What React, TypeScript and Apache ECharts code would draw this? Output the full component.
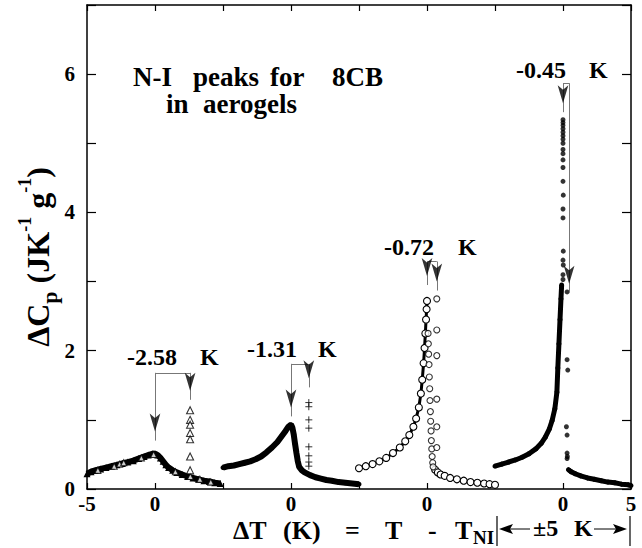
import React, { useEffect, useRef } from "react";
import * as echarts from "echarts";

const SERIF = "Liberation Serif";

// Panel placement on the shared axis (each panel spans -5..+5 K)
const PANEL_OFFSETS = [0, 10, 20, 30];
const X_TICK_LABELS: Record<string, string> = { "-5": "-5", "0": "0", "10": "0", "20": "0", "30": "0", "35": "5" };
const Y_TICK_LABELS = [0, 2, 4, 6];

// Panel 1 : -2.58 K (triangles)
const p1Curve = [
  [-5.0, 0.22], [-4.7, 0.25], [-4.4, 0.27], [-4.0, 0.29], [-3.6, 0.31], [-3.2, 0.33], [-2.8, 0.35],
  [-2.4, 0.37], [-2.0, 0.39], [-1.6, 0.41], [-1.2, 0.44], [-0.8, 0.47], [-0.5, 0.49], [-0.2, 0.51],
  [0.0, 0.51], [0.2, 0.49], [0.4, 0.45], [0.6, 0.4], [0.8, 0.35], [1.0, 0.31], [1.3, 0.27], [1.6, 0.24],
  [2.0, 0.21], [2.4, 0.18], [2.8, 0.16], [3.2, 0.14], [3.6, 0.12], [4.0, 0.11], [4.4, 0.09], [4.8, 0.08],
];
const p1Marks = [
  [-4.2, 0.27], [-3.0, 0.33], [-2.6, 0.36], [-2.3, 0.38], [-1.0, 0.45], [-0.1, 0.5],
  [1.5, 0.25], [2.6, 0.18], [3.3, 0.14], [4.1, 0.1],
];
const p1Column = [
  [2.58, 1.14], [2.58, 1.0], [2.58, 0.93], [2.58, 0.81], [2.58, 0.72], [2.58, 0.47], [2.58, 0.27],
];

// Panel 2 : -1.31 K (crosses)
const p2Curve = [
  [-5.0, 0.31], [-4.6, 0.33], [-4.2, 0.34], [-3.8, 0.36], [-3.4, 0.38], [-3.0, 0.4], [-2.6, 0.43],
  [-2.2, 0.47], [-1.8, 0.53], [-1.4, 0.6], [-1.0, 0.68], [-0.7, 0.76], [-0.4, 0.84], [-0.2, 0.9],
  [0.0, 0.93], [0.1, 0.89], [0.2, 0.79], [0.3, 0.65], [0.4, 0.52], [0.5, 0.4], [0.6, 0.32], [0.8, 0.27],
  [1.0, 0.24], [1.4, 0.2], [1.8, 0.17], [2.2, 0.15], [2.6, 0.13], [3.0, 0.12], [3.5, 0.1], [4.0, 0.09],
  [4.5, 0.08], [5.0, 0.07],
];
const p2Column = [
  [1.31, 1.25], [1.31, 1.19], [1.31, 1.0], [1.31, 0.88], [1.31, 0.61], [1.31, 0.48], [1.31, 0.39], [1.31, 0.33],
];

// Panel 3 : -0.72 K (open circles)
const p3Rise = [
  [-5.0, 0.3], [-4.5, 0.33], [-4.0, 0.36], [-3.5, 0.4], [-3.0, 0.45], [-2.5, 0.52], [-2.0, 0.6],
  [-1.6, 0.69], [-1.3, 0.78], [-1.0, 0.9], [-0.8, 1.02], [-0.6, 1.18], [-0.45, 1.38], [-0.35, 1.58],
  [-0.25, 1.82], [-0.18, 2.04], [-0.12, 2.25], [-0.07, 2.45], [-0.03, 2.6], [0.0, 2.72],
];
const p3Fall = [
  [0.08, 2.25], [0.1, 2.1], [0.12, 1.95], [0.15, 1.8], [0.17, 1.62], [0.2, 1.45], [0.22, 1.28],
  [0.25, 1.12], [0.27, 0.98], [0.3, 0.84], [0.32, 0.7], [0.35, 0.58], [0.38, 0.47], [0.42, 0.38], [0.45, 0.32],
];
const p3Shift = [[0.72, 2.75], [0.72, 2.3], [0.72, 1.93], [0.72, 1.3], [0.72, 0.9], [0.72, 0.6]];
const p3Tail = [
  [0.6, 0.28], [0.8, 0.24], [1.0, 0.21], [1.3, 0.19], [1.7, 0.16], [2.2, 0.14], [2.7, 0.12],
  [3.2, 0.1], [3.7, 0.09], [4.2, 0.08], [4.6, 0.07], [5.0, 0.06],
];

// Panel 4 : -0.45 K (filled dots)
const p4Rise = [
  [-5.0, 0.33], [-4.5, 0.36], [-4.0, 0.39], [-3.5, 0.42], [-3.0, 0.46], [-2.5, 0.51], [-2.0, 0.58],
  [-1.6, 0.66], [-1.3, 0.75], [-1.0, 0.87], [-0.8, 0.99], [-0.6, 1.16], [-0.45, 1.4], [-0.38, 1.75],
  [-0.3, 2.1], [-0.22, 2.45], [-0.15, 2.75], [-0.1, 2.95],
];
const p4Top = [
  [0.0, 3.03], [0.0, 3.1], [0.02, 3.24], [0.0, 3.31], [0.02, 3.44], [0.0, 3.92], [0.0, 4.05], [0.02, 4.25],
  [0.0, 4.45], [0.0, 4.65], [0.0, 4.76], [0.0, 4.85], [0.0, 4.91], [0.0, 5.0], [0.0, 5.06], [0.0, 5.11],
  [0.0, 5.16], [0.0, 5.21], [0.0, 5.26], [0.0, 5.3], [0.0, 5.34],
];
const p4Right = [[0.3, 2.85], [0.3, 1.87], [0.35, 1.72], [0.25, 0.9], [0.3, 0.78], [0.3, 0.52], [0.32, 0.47], [0.3, 0.44]];
const p4Tail = [
  [0.4, 0.28], [0.6, 0.25], [0.9, 0.22], [1.3, 0.19], [1.8, 0.16], [2.3, 0.14], [2.8, 0.12],
  [3.3, 0.1], [3.8, 0.09], [4.3, 0.07], [4.8, 0.06], [5.0, 0.05],
];

// Shift annotations
const SHIFTS = [2.58, 1.31, 0.72, 0.45];
const SHIFT_LABELS = ["-2.58", "-1.31", "-0.72", "-0.45"];
const BRACKET_TOP = [1.68, 1.81, 3.29, 5.87];
const LEFT_TIP = [0.7, 1.05, 2.95, 5.45];
const RIGHT_TIP = [1.29, 1.47, 2.87, 2.84];

const shift = (arr: number[][], off: number) => arr.map(([x, y]) => [x + off, y]);

function buildOption() {
  const black = "#000";
  const hollow = { color: "#fff", borderColor: black, borderWidth: 1.1 };
  const lineBand = (data: number[][], width: number, symbol: string, size: number, itemStyle: any) => ({
    type: "line",
    data,
    showSymbol: true,
    showAllSymbol: true,
    symbol,
    symbolSize: size,
    lineStyle: { color: black, width },
    itemStyle,
    silent: true,
    z: 2,
  });
  const scatter = (data: number[][], symbol: string, size: any, itemStyle: any, z = 3) => ({
    type: "scatter",
    data,
    symbol,
    symbolSize: size,
    itemStyle,
    silent: true,
    z,
  });

  const arrowData: number[][] = [];
  const markData: any[] = [];
  PANEL_OFFSETS.forEach((off, i) => {
    const xl = off;
    const xr = off + SHIFTS[i];
    arrowData.push([xl, LEFT_TIP[i]], [xr, RIGHT_TIP[i]]);
    markData.push(
      [{ coord: [xl, LEFT_TIP[i]] }, { coord: [xl, BRACKET_TOP[i]] }],
      [{ coord: [xl, BRACKET_TOP[i]] }, { coord: [xr, BRACKET_TOP[i]] }],
      [{ coord: [xr, BRACKET_TOP[i]] }, { coord: [xr, RIGHT_TIP[i]] }],
    );
  });

  const plusPath = "path://M0,5L10,5M5,0L5,10";

  const series: any[] = [
    lineBand(shift(p1Curve, PANEL_OFFSETS[0]), 6, "triangle", 7, { color: black }),
    scatter(shift(p1Marks, PANEL_OFFSETS[0]), "triangle", 6, hollow),
    scatter(shift(p1Column, PANEL_OFFSETS[0]), "triangle", 7, hollow),
    lineBand(shift(p2Curve, PANEL_OFFSETS[1]), 6, "circle", 5, { color: black }),
    scatter(shift(p2Column, PANEL_OFFSETS[1]), plusPath, 7, { color: "none", borderColor: black, borderWidth: 1 }),
    lineBand(shift(p3Rise, PANEL_OFFSETS[2]), 3, "circle", 7, hollow),
    scatter(shift(p3Fall, PANEL_OFFSETS[2]), "circle", 6, hollow),
    scatter(shift(p3Shift, PANEL_OFFSETS[2]), "circle", 6, hollow),
    lineBand(shift(p3Tail, PANEL_OFFSETS[2]), 3, "circle", 7, hollow),
    lineBand(shift(p4Rise, PANEL_OFFSETS[3]), 5, "circle", 5, { color: black }),
    scatter(shift(p4Top, PANEL_OFFSETS[3]), "circle", 5, { color: black }),
    scatter(shift(p4Right, PANEL_OFFSETS[3]), "circle", 5, { color: black }),
    lineBand(shift(p4Tail, PANEL_OFFSETS[3]), 5, "circle", 5, { color: black }),
    {
      type: "scatter",
      data: arrowData,
      symbol: "arrow",
      symbolSize: [8, 18],
      symbolRotate: 180,
      symbolOffset: [0, -9],
      itemStyle: { color: black },
      silent: true,
      z: 5,
      markLine: {
        silent: true,
        symbol: ["none", "none"],
        label: { show: false },
        lineStyle: { color: "#777", width: 1, type: "solid" },
        emphasis: { disabled: true },
        data: markData,
      },
    },
  ];

  const boldText = (text: string, x: number, y: number, size: number, align = "left") => ({
    type: "text",
    x,
    y,
    silent: true,
    z: 10,
    style: {
      text,
      fill: black,
      fontFamily: SERIF,
      fontWeight: "bold",
      fontSize: size,
      textAlign: align,
      textVerticalAlign: "middle",
      align,
      verticalAlign: "middle",
    },
  });

  const labelX = [127, 247, 384, 516];
  const labelKX = [200, 318, 458, 589];
  const labelY = [357, 349, 247, 70];

  const graphic: any[] = [
    boldText("N-I", 133, 77, 27),
    boldText("peaks", 193, 77, 27),
    boldText("for", 270, 77, 27),
    boldText("8CB", 332, 77, 27),
    boldText("in", 166, 104, 27),
    boldText("aerogels", 203, 104, 27),
    ...SHIFT_LABELS.map((t, i) => boldText(t, labelX[i], labelY[i], 24)),
    ...SHIFT_LABELS.map((_, i) => boldText("K", labelKX[i], labelY[i], 24)),
    {
      type: "text",
      x: 38,
      y: 257,
      rotation: Math.PI / 2,
      silent: true,
      z: 10,
      style: {
        text: "ΔC{sub|p} (JK{sup|-1} g{sup|-1})",
        fill: black,
        fontFamily: SERIF,
        fontWeight: "bold",
        fontSize: 32,
        lineHeight: 44,
        textAlign: "center",
        textVerticalAlign: "middle",
        align: "center",
        verticalAlign: "middle",
        rich: {
          sub: { fontFamily: SERIF, fontWeight: "bold", fontSize: 22, verticalAlign: "bottom", lineHeight: 44, fill: black },
          sup: { fontFamily: SERIF, fontWeight: "bold", fontSize: 18, verticalAlign: "top", lineHeight: 44, fill: black },
        },
      },
    },
    boldText("ΔT", 233, 530, 26),
    boldText("(K)", 283, 530, 26),
    boldText("=", 345, 530, 26),
    boldText("T", 385, 530, 26),
    boldText("-", 428, 530, 26),
    boldText("T", 455, 530, 26),
    boldText("NI", 473, 537, 19),
    { type: "line", silent: true, shape: { x1: 497, y1: 516, x2: 497, y2: 546 }, style: { stroke: black, lineWidth: 1.2 } },
    { type: "line", silent: true, shape: { x1: 630, y1: 516, x2: 630, y2: 546 }, style: { stroke: black, lineWidth: 1.2 } },
    { type: "line", silent: true, shape: { x1: 505, y1: 529, x2: 530, y2: 529 }, style: { stroke: black, lineWidth: 1 } },
    { type: "polygon", silent: true, shape: { points: [[499, 529], [513, 524], [510, 529], [513, 534]] }, style: { fill: black } },
    boldText("±5", 533, 528, 24),
    boldText("K", 574, 528, 24),
    { type: "line", silent: true, shape: { x1: 594, y1: 529, x2: 620, y2: 529 }, style: { stroke: black, lineWidth: 1 } },
    { type: "polygon", silent: true, shape: { points: [[627, 529], [613, 524], [616, 529], [613, 534]] }, style: { fill: black } },
  ];

  const axisLine = { show: true, onZero: false, lineStyle: { color: black, width: 1.5 } };
  const labelStyle = { color: black, fontFamily: SERIF, fontWeight: "bold", fontSize: 21 };

  return {
    animation: false,
    backgroundColor: "#fff",
    grid: { left: 87, right: 11, top: 5, bottom: 59, containLabel: false },
    xAxis: [
      {
        type: "value", min: -5, max: 35, interval: 5, position: "bottom",
        axisLine, splitLine: { show: false },
        axisTick: { inside: true, length: 6, lineStyle: { color: black, width: 1.2 } },
        axisLabel: { ...labelStyle, margin: 4, formatter: (v: number) => X_TICK_LABELS[String(v)] ?? "" },
      },
      {
        type: "value", min: -5, max: 35, interval: 5, position: "top",
        axisLine, splitLine: { show: false },
        axisTick: { inside: true, length: 6, lineStyle: { color: black, width: 1.2 } },
        axisLabel: { show: false },
      },
    ],
    yAxis: [
      {
        type: "value", min: 0, max: 7, interval: 1, position: "left",
        axisLine, splitLine: { show: false },
        axisTick: { inside: true, length: 9, lineStyle: { color: black, width: 1.2 } },
        axisLabel: { ...labelStyle, margin: 12, formatter: (v: number) => (Y_TICK_LABELS.includes(v) ? String(v) : "") },
      },
      {
        type: "value", min: 0, max: 7, interval: 1, position: "right",
        axisLine, splitLine: { show: false },
        axisTick: { inside: true, length: 9, lineStyle: { color: black, width: 1.2 } },
        axisLabel: { show: false },
      },
    ],
    series,
    graphic,
  };
}

export default function App() {
  const ref = useRef<HTMLDivElement>(null);
  useEffect(() => {
    const chart = echarts.init(ref.current!, null, { renderer: "svg" });
    chart.setOption(buildOption() as any);
    return () => chart.dispose();
  }, []);
  return <div ref={ref} style={{ position: "fixed", left: 0, top: 0, width: 642, height: 548 }} />;
}
